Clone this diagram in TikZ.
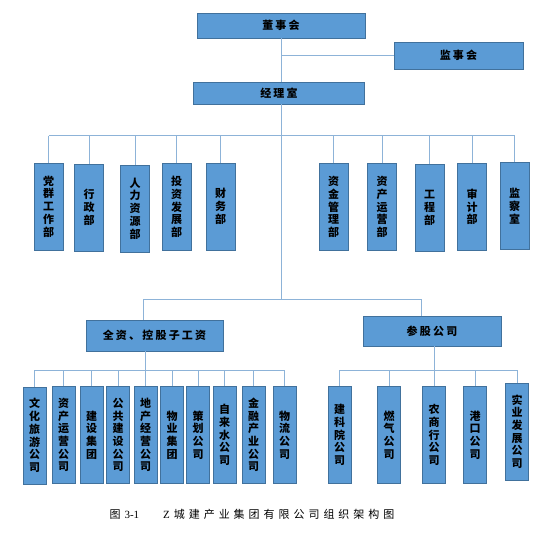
\documentclass[tikz,border=0pt]{standalone}
\usepackage{fontspec}
\newfontfamily\cjk{Noto Sans CJK SC}
\newfontfamily\capser{Liberation Serif}
\usetikzlibrary{positioning,calc}

\begin{document}
\begin{tikzpicture}
  [x=1pt,y=-1pt,
   unitN/.style={rectangle,draw=boxline,fill=boxfill,line width=0.8pt,inner sep=0pt,
     font=\cjk\bfseries\fontsize{11}{12.7}\selectfont,align=center},
   headN/.style={unitN,font=\cjk\bfseries\addfontfeature{LetterSpace=20}\fontsize{11}{13}\selectfont},
   deptN/.style={unitN,minimum width=29pt,minimum height=87pt},
   compN/.style={unitN,minimum width=23pt,minimum height=97pt},
   conn/.style={draw=linecol,line width=1pt}]
  \definecolor{boxfill}{HTML}{5B9BD5}
  \definecolor{boxline}{HTML}{41719C}
  \definecolor{linecol}{HTML}{8DB3D8}
  \useasboundingbox (0,0) rectangle (559,534);

  % top level
  \node[headN,minimum width=168pt,minimum height=25pt] (dsh) at (281,25.5) {董事会};
  \node[headN,minimum width=129pt,minimum height=27pt] (jsh) at (458.5,55.5) {监事会};
  \node[headN,minimum width=171pt,minimum height=22pt] (jls) at (279,93) {经理室};

  \coordinate (bus1) at (0,136);
  \coordinate (bus2) at (0,300);
  \coordinate (bus3) at (0,370);

  % departments
  \node[deptN] (d1) at (48.5,206.5) {党\\群\\工\\作\\部};
  \node[deptN] (d2) at (89,207.5) {行\\政\\部};
  \node[deptN] (d3) at (135,208.5) {人\\力\\资\\源\\部};
  \node[deptN] (d4) at (176.5,207) {投\\资\\发\\展\\部};
  \node[deptN] (d5) at (220.5,206.5) {财\\务\\部};
  \node[deptN] (d6) at (333.5,207) {资\\金\\管\\理\\部};
  \node[deptN] (d7) at (382,207) {资\\产\\运\\营\\部};
  \node[deptN] (d8) at (429.5,208) {工\\程\\部};
  \node[deptN] (d9) at (472,207) {审\\计\\部};
  \node[deptN] (d10) at (514.5,206) {监\\察\\室};

  % subsidiaries
  \node[headN,minimum width=137pt,minimum height=31pt] (qz) at (154.5,335.5) {全资、控股子工资};
  \node[headN,minimum width=138pt,minimum height=30pt] (cg) at (432,331) {参股公司};

  \node[compN] (s1) at (34.5,435.5) {文\\化\\旅\\游\\公\\司};
  \node[compN] (s2) at (63.5,435) {资\\产\\运\\营\\公\\司};
  \node[compN] (s3) at (91.5,435) {建\\设\\集\\团};
  \node[compN] (s4) at (118,435) {公\\共\\建\\设\\公\\司};
  \node[compN] (s5) at (145.5,435) {地\\产\\经\\营\\公\\司};
  \node[compN] (s6) at (172,435) {物\\业\\集\\团};
  \node[compN] (s7) at (198,435) {策\\划\\公\\司};
  \node[compN] (s8) at (224.5,435) {自\\来\\水\\公\\司};
  \node[compN] (s9) at (253.5,435) {金\\融\\产\\业\\公\\司};
  \node[compN] (s10) at (284.5,435) {物\\流\\公\\司};

  \node[compN] (p1) at (339.5,435) {建\\科\\院\\公\\司};
  \node[compN] (p2) at (389,435) {燃\\气\\公\\司};
  \node[compN] (p3) at (434,435) {农\\商\\行\\公\\司};
  \node[compN] (p4) at (475,435) {港\\口\\公\\司};
  \node[compN] (p5) at (517,431.5) {实\\业\\发\\展\\公\\司};

  \node[anchor=west,font=\cjk\fontsize{11}{13}\selectfont] (cap) at (106,514)
    {图\hspace{4pt}{\capser 3-1}\hspace{24pt}{\capser Z}\hspace{4pt}{\addfontfeature{LetterSpace=36}城建产业集团有限公司组织架构图}};

  % connectors
  \draw[conn] (dsh.south) -- (dsh.south |- jls.north);
  \draw[conn] (jsh.west) -- (jsh.west -| dsh.south);
  \draw[conn] (dsh.south |- jls.south) -- (dsh.south |- bus2);
  \draw[conn] (d1.north |- bus1) -- (d10.north |- bus1);
  \foreach \d in {d1,d2,d3,d4,d5,d6,d7,d8,d9,d10}
    \draw[conn] (\d.north) -- (\d.north |- bus1);
  \draw[conn] ([xshift=-11pt]qz.north) |- ([xshift=-11pt]cg.north |- bus2) -- ([xshift=-11pt]cg.north);
  \draw[conn] (s5.north |- qz.south) -- (s5.north);
  \draw[conn] (s1.north |- bus3) -- (s10.north |- bus3);
  \foreach \s in {s1,s2,s3,s4,s6,s7,s8,s9,s10}
    \draw[conn] (\s.north) -- (\s.north |- bus3);
  \draw[conn] (p3.north |- cg.south) -- (p3.north);
  \draw[conn] (p1.north |- bus3) -- (p5.north |- bus3);
  \foreach \p in {p1,p2,p4,p5}
    \draw[conn] (\p.north) -- (\p.north |- bus3);
\end{tikzpicture}
\end{document}
